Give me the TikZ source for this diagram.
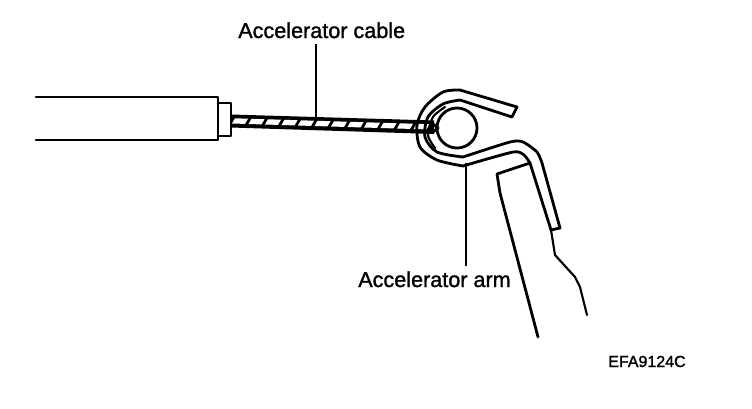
\documentclass[tikz,border=0pt]{standalone}
\usepackage{fontspec}
\setmainfont{Liberation Sans}
\usetikzlibrary{positioning,calc}
\begin{document}
\begin{tikzpicture}[
  x=0.75pt,y=-0.75pt,
  part/.style={draw=black,line width=2.1pt,line join=round,line cap=round},
  thin part/.style={draw=black,line width=1.6pt,line join=round,line cap=round},
  leader/.style={draw=black,line width=1.4pt},
  lab/.style={font=\fontsize{16.2}{18}\selectfont\addfontfeature{FakeBold=1.2},inner sep=0pt,text=black},
  code/.style={font=\fontsize{12}{14}\selectfont\addfontfeature{FakeBold=1.5},inner sep=0pt,text=black}
]
  \useasboundingbox[fill=white] (0,0) rectangle (752,408);
  % housing and ferrule
  \draw[part] (36,97) -- (218,97) -- (218,140) -- (36,140);
  \draw[part] (218,103) -- (231,103) -- (231,136) -- (218,136);
  % cable
  \fill[black] (231,114.5) -- (434,120.5) -- (434,134) -- (231,127.5) -- cycle;
  \foreach \i in {0,...,11}{
    \fill[white] ($(235+\i*16.5,118.3+\i*0.5)$) -- ++(13,0.4) -- ++(-3,5.2) -- ++(-13,-0.4) -- cycle;
  }
  % pin
  \draw[part,fill=white] (457,128) circle (20);
  % hook of the arm
  \draw[part] plot[smooth,tension=0.5] coordinates {(460,90) (443,92) (425,107) (417,125) (420,147) (437,160) (463,166)};
  \draw[part] plot[smooth,tension=0.5] coordinates {(460,100) (443,104) (428,117) (425,137) (437,152) (463,157)};
  \draw[part] (460,90) -- (517,107) -- (512,117) -- (460,100);
  \draw[thin part] plot[smooth] coordinates {(445,107) (433,117) (428,135) (435,148)};
  \draw[part] (433,124) -- (438,128) -- (433,132);
  % strip of the arm
  \draw[part] plot[smooth,tension=0.4] coordinates {(463,157) (510,142) (523,142) (537,152) (542,163)};
  \draw[part] (542,163) -- (560,228) -- (551,230);
  \draw[part] plot[smooth,tension=0.4] coordinates {(463,166) (513,152) (524,155) (530,163)};
  \draw[part] (530,163) -- (551,230);
  % lever
  \draw[part] (530,163) -- (497,174) -- (500,193) -- (538,337);
  \draw[thin part] (551,230) -- (555,255) -- (575,277) -- (580,287) -- (587,315);
  % labels
  \node[lab,anchor=base west] (cablelabel) at (238,38) {Accelerator cable};
  \node[lab,anchor=base west] (armlabel) at (358,287) {Accelerator arm};
  \node[code,anchor=base west] (figcode) at (608,367) {EFA9124C};
  \coordinate (cablepoint) at (316,119);
  \coordinate (armpoint) at (466,163);
  \draw[leader] ($(cablelabel.south -| cablepoint)+(0,6)$) -- (cablepoint);
  \draw[leader] ($(armlabel.north -| armpoint)+(0,-5)$) -- (armpoint);
\end{tikzpicture}
\end{document}
